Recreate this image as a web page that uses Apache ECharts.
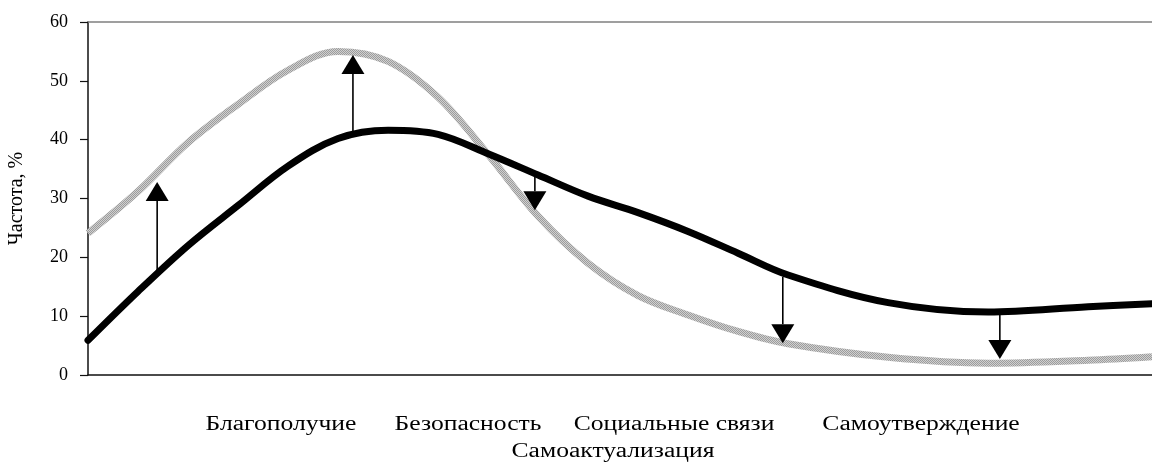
<!DOCTYPE html>
<html>
<head>
<meta charset="utf-8">
<script src="https://cdn.jsdelivr.net/npm/echarts@6/dist/echarts.min.js"></script>
<style>
  html, body { margin: 0; padding: 0; background: #fff; }
  #chart { width: 1152px; height: 463px; }
</style>
</head>
<body>
<div id="chart"></div>
<script>
// curve positions along a 0..100 horizontal scale, values in %
const CURVE_X = [0, 4.7, 9.4, 14.1, 18.8, 23.5, 28.2, 32.9, 37.6, 42.3, 47.0, 51.7, 56.4, 61.1, 65.8, 75.2, 84.6, 94.0, 100];
const BLACK_Y = [5.9, 14.2, 22.0, 28.8, 35.5, 40.2, 41.6, 40.9, 37.6, 34.0, 30.4, 27.6, 24.4, 20.7, 17.0, 12.3, 10.7, 11.6, 12.1];
const GRAY_Y = [24.1, 31.2, 39.5, 46.0, 51.8, 55.0, 53.3, 47.2, 37.5, 27.0, 19.0, 13.5, 10.2, 7.4, 5.3, 3.0, 2.0, 2.5, 3.1];

// arrows: position, start value (black curve), tip value (gray curve)
const ARROW_X = [6.5, 24.9, 42.0, 65.3, 85.7];
const ARROW_FROM = [16.8, 41.0, 34.5, 16.7, 10.6];
const ARROW_TO = [32.8, 54.4, 28.0, 5.4, 2.7];

const Y_TICKS = [0, 10, 20, 30, 40, 50, 60];
const CATEGORIES = ["Благополучие", "Безопасность", "Социальные связи", "Самоутверждение", "Самоактуализация"];
const LABEL_POS = [[281, 425], [468, 425], [674, 425], [921, 425], [613, 452]];

const FONT = "'Liberation Serif', 'Times New Roman', serif";

function grayPattern() {
  const c = document.createElement("canvas");
  c.width = 2;
  c.height = 2;
  const ctx = c.getContext("2d");
  ctx.fillStyle = "#d0d0d0";
  ctx.fillRect(0, 0, 2, 2);
  ctx.fillStyle = "#9c9c9c";
  ctx.fillRect(0, 0, 1, 1);
  ctx.fillRect(1, 1, 1, 1);
  return { image: c, repeat: "repeat" };
}

const chart = echarts.init(document.getElementById("chart"), null, { renderer: "canvas" });

const hiddenAxisParts = {
  axisTick: { show: false },
  axisLabel: { show: false },
  splitLine: { show: false },
};

chart.setOption({
  backgroundColor: "#fff",
  animation: false,
  grid: { left: 88, top: 22, right: 0, bottom: 88, outerBoundsMode: "none" },
  xAxis: [
    {
      type: "value",
      min: 0,
      max: 100,
      position: "bottom",
      axisLine: { show: true, onZero: false, lineStyle: { color: "#111", width: 1.5 } },
      ...hiddenAxisParts,
    },
    {
      type: "value",
      min: 0,
      max: 100,
      position: "top",
      axisLine: { show: true, onZero: false, lineStyle: { color: "#808080", width: 1.5 } },
      ...hiddenAxisParts,
    },
  ],
  yAxis: {
    type: "value",
    min: Y_TICKS[0],
    max: Y_TICKS[Y_TICKS.length - 1],
    interval: 10,
    name: "Частота, %",
    nameLocation: "middle",
    nameGap: 61,
    nameTextStyle: { fontFamily: FONT, fontSize: 20, color: "#000" },
    axisLine: { show: true, lineStyle: { color: "#111", width: 1.5 } },
    axisTick: { show: true, inside: false, length: 8, lineStyle: { color: "#111", width: 1.2 } },
    axisLabel: { fontFamily: FONT, fontSize: 18, color: "#000", margin: 20 },
    splitLine: { show: false },
  },
  graphic: CATEGORIES.map((name, i) => ({
    type: "text",
    x: LABEL_POS[i][0],
    y: LABEL_POS[i][1],
    scaleX: 1.28,
    style: {
      text: name,
      fontFamily: FONT,
      fontSize: 20,
      fill: "#000",
      align: "center",
      verticalAlign: "middle",
    },
  })),
  series: [
    {
      type: "line",
      data: CURVE_X.map((x, i) => [x, GRAY_Y[i]]),
      smooth: 0.35,
      symbol: "none",
      lineStyle: { color: grayPattern(), width: 7 },
      z: 2,
    },
    {
      type: "line",
      data: CURVE_X.map((x, i) => [x, BLACK_Y[i]]),
      smooth: 0.35,
      symbol: "none",
      lineStyle: { color: "#000", width: 7, cap: "round" },
      z: 3,
    },
    {
      type: "custom",
      data: ARROW_X.map((x, i) => [x, ARROW_FROM[i], ARROW_TO[i]]),
      z: 4,
      renderItem: (params, api) => {
        const p0 = api.coord([api.value(0), api.value(1)]);
        const p1 = api.coord([api.value(0), api.value(2)]);
        const dir = p1[1] > p0[1] ? 1 : -1;
        const headH = 19;
        const headW = 11.5;
        const baseY = p1[1] - dir * headH;
        return {
          type: "group",
          children: [
            {
              type: "line",
              shape: { x1: p0[0], y1: p0[1], x2: p0[0], y2: baseY },
              style: { stroke: "#000", lineWidth: 1.6 },
            },
            {
              type: "polygon",
              shape: { points: [[p1[0] - headW, baseY], [p1[0] + headW, baseY], [p1[0], p1[1]]] },
              style: { fill: "#000" },
            },
          ],
        };
      },
    },
  ],
});
</script>
</body>
</html>
